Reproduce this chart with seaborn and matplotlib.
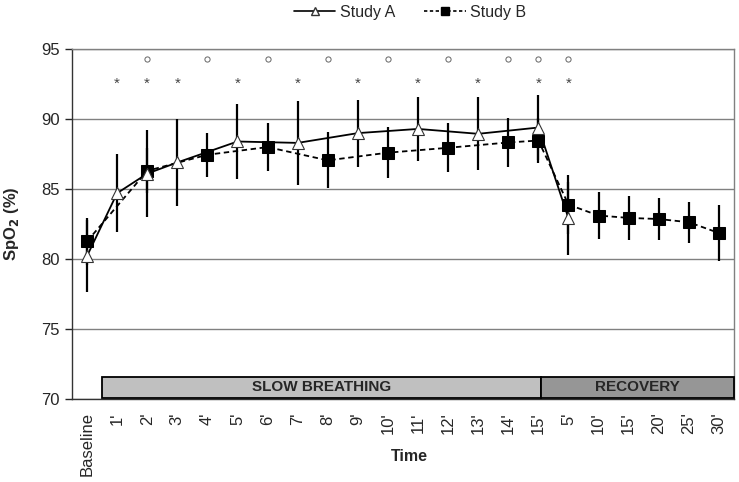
import numpy as np
import pandas as pd
import matplotlib
matplotlib.use("Agg")
import matplotlib.pyplot as plt
from matplotlib.patches import Rectangle
from matplotlib.lines import Line2D
import seaborn as sns

# ---- data ----
tick_labels = ["Baseline", "1'", "2'", "3'", "4'", "5'", "6'", "7'", "8'", "9'", "10'",
               "11'", "12'", "13'", "14'", "15'", "5'", "10'", "15'", "20'", "25'", "30'"]

a_idx = [0, 1, 2, 3, 5, 7, 9, 11, 13, 15, 16]
a_mean = [80.2, 84.7, 86.1, 86.9, 88.4, 88.3, 89.0, 89.3, 88.95, 89.4, 82.9]
a_sd = [2.6, 2.8, 3.1, 3.1, 2.7, 3.0, 2.4, 2.3, 2.6, 2.3, 2.6]

b_idx = [0, 2, 4, 6, 8, 10, 12, 14, 15, 16, 17, 18, 19, 20, 21]
b_mean = [81.25, 86.3, 87.45, 88.0, 87.05, 87.6, 87.95, 88.33, 88.47, 83.88, 83.1, 82.93, 82.85, 82.62, 81.85]
b_sd = [1.7, 1.6, 1.57, 1.73, 2.0, 1.83, 1.76, 1.73, 1.6, 2.1, 1.7, 1.57, 1.5, 1.47, 2.0]

star_idx = [1, 2, 3, 5, 7, 9, 11, 13, 15, 16]
circle_idx = [2, 4, 6, 8, 10, 12, 14, 15, 16]
star_level = 92.5
circle_level = 94.3

phases = ["SLOW BREATHING", "RECOVERY"]
phase_start = [0.5, 15.1]
phase_end = [15.1, 21.5]
phase_colors = ["#c0c0c0", "#969696"]

# ---- style ----
sns.set_style("white")
plt.rcParams["font.family"] = ["Liberation Sans", "DejaVu Sans"]

fig = plt.figure(figsize=(7.39, 4.82), dpi=100)
ax = fig.add_axes([0.0974, 0.1732, 0.8958, 0.7245])

df_a = pd.DataFrame({"x": a_idx, "y": a_mean, "sd": a_sd})
df_b = pd.DataFrame({"x": b_idx, "y": b_mean, "sd": b_sd})

# error bars
ax.vlines(df_a["x"], df_a["y"] - df_a["sd"], df_a["y"] + df_a["sd"], color="black", lw=1.6, zorder=2)
ax.vlines(df_b["x"], df_b["y"] - df_b["sd"], df_b["y"] + df_b["sd"], color="black", lw=1.6, zorder=2)

sns.lineplot(data=df_b, x="x", y="y", ax=ax, color="black", lw=1.3, linestyle=(0, (3, 2)),
             marker="s", markersize=9, markerfacecolor="black", markeredgecolor="black",
             zorder=3, legend=False)
sns.lineplot(data=df_a, x="x", y="y", ax=ax, color="black", lw=1.3,
             marker="^", markersize=9, markerfacecolor="white", markeredgecolor="#333333",
             markeredgewidth=0.8, zorder=4, legend=False)

# significance marks
for i in star_idx:
    ax.text(i, star_level, "*", ha="center", va="center", fontsize=11, color="#444444")
ax.scatter(circle_idx, [circle_level] * len(circle_idx), s=14, facecolors="white",
           edgecolors="#666666", linewidths=0.7, zorder=3)

# phase boxes
for name, s, e, c in zip(phases, phase_start, phase_end, phase_colors):
    ax.add_patch(Rectangle((s, 70.07), e - s, 1.48, facecolor=c, edgecolor="black",
                           lw=1.3, zorder=5, clip_on=False))
    ax.text((s + e) / 2, 70.8, name, ha="center", va="center", fontsize=11,
            fontweight="bold", zorder=6)

# axes
ax.set_xlim(-0.5, 21.5)
ax.set_ylim(70, 95)
ax.set_yticks(np.arange(70, 96, 5))
ax.yaxis.grid(True, color="#808080", lw=1)
ax.set_axisbelow(True)
ax.set_xticks(range(len(tick_labels)))
ax.set_xticklabels(tick_labels, rotation=90, fontsize=12)
ax.set_xticks(np.arange(-0.5, 22, 1), minor=True)
ax.tick_params(axis="x", which="major", length=0, pad=10)
ax.tick_params(axis="x", which="minor", length=6, width=1, direction="out", color="#333333")
ax.tick_params(axis="y", length=5, width=1, direction="out", labelsize=12, pad=4, left=True)
for sp in ["left", "bottom"]:
    ax.spines[sp].set_color("#333333")
    ax.spines[sp].set_linewidth(1)
for sp in ["top", "right"]:
    ax.spines[sp].set_color("#808080")
    ax.spines[sp].set_linewidth(1)

ax.set_ylabel("SpO$_\\mathbf{2}$ (%)", fontsize=12, fontweight="bold", labelpad=14)
ax.set_xlabel("Time", fontsize=11.5, fontweight="bold")
ax.xaxis.set_label_coords(0.509, -0.145)

handles = [
    Line2D([], [], color="black", lw=1.2, marker="^", markersize=6,
           markerfacecolor="white", markeredgecolor="#333333"),
    Line2D([], [], color="black", lw=1.2, linestyle=(0, (2, 1.5)), marker="s", markersize=6,
           markerfacecolor="black"),
]
fig.legend(handles, ["Study A", "Study B"], loc="center", bbox_to_anchor=(0.555, 0.974),
           ncol=2, frameon=False, fontsize=11.5, handlelength=2.6, columnspacing=1.8,
           handletextpad=0.3)

fig.savefig("out.png", dpi=100)
